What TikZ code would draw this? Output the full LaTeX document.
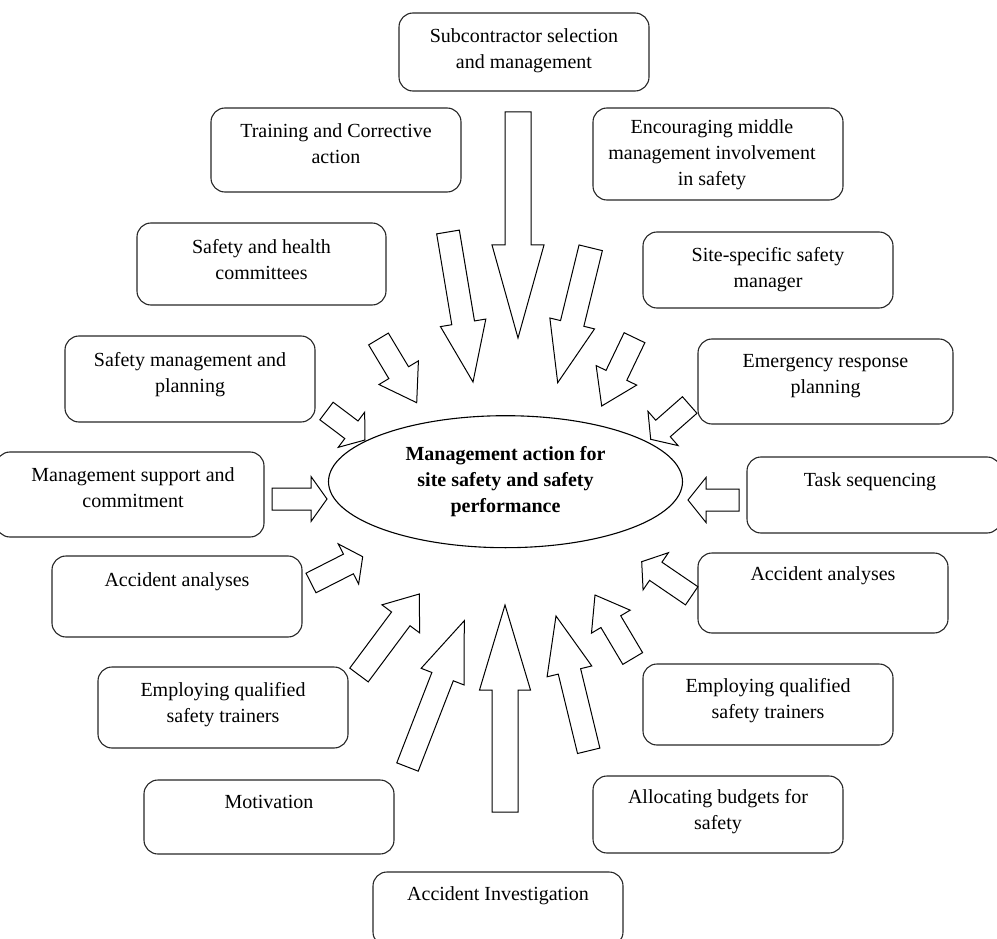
\documentclass[tikz,border=0pt]{standalone}
\usepackage{fontspec}
\setmainfont{Liberation Serif}
\usetikzlibrary{calc,shapes.geometric}

\tikzset{
  card/.style={draw=black!85, line width=1.1pt, rounded corners=14pt, inner sep=0pt},
  lbl/.style={anchor=north, inner sep=0pt, align=center, font=\fontsize{20}{26}\selectfont},
  hub/.style={draw=black, line width=1.1pt, ellipse, inner sep=0pt, align=center,
              font=\fontsize{20}{26}\selectfont\bfseries},
  flowarrow/.style={draw=black, line width=1pt, line join=miter},
}

% Block arrow from tail #1 to tip #2: half shaft width #3, half head width #4, head length #5
\newcommand\bigarrow[5]{%
  \coordinate (#2-base) at ($(#2)!#5!(#1)$);
  \draw[flowarrow] ($(#1)!#3!90:(#2)$) -- ($(#2-base)!#3!90:(#2)$)
    -- ($(#2-base)!#4!90:(#2)$) -- (#2) -- ($(#2-base)!#4!-90:(#2)$)
    -- ($(#2-base)!#3!-90:(#2)$) -- ($(#1)!#3!-90:(#2)$) -- cycle;
}

\begin{document}
\begin{tikzpicture}[x=1pt, y=-1pt]
\useasboundingbox (0,0) rectangle (997,939);

% central ellipse
\node[hub, minimum width=354pt, minimum height=132pt] (core) at (505.5,481.7)
  {Management action for\\site safety and safety\\performance};

% factor boxes
\node[card, minimum width=250pt, minimum height=78pt] (sub)   at (524,52)    {};
\node[card, minimum width=250pt, minimum height=84pt] (train) at (336,150)   {};
\node[card, minimum width=250pt, minimum height=92pt] (enc)   at (718,154)   {};
\node[card, minimum width=249pt, minimum height=82pt] (shc)   at (261.5,264) {};
\node[card, minimum width=250pt, minimum height=76pt] (site)  at (768,270)   {};
\node[card, minimum width=250pt, minimum height=86pt] (smp)   at (190,379)   {};
\node[card, minimum width=255pt, minimum height=85pt] (erp)   at (825.5,381.5) {};
\node[card, minimum width=268pt, minimum height=85pt] (msc)   at (130,494.5) {};
\node[card, minimum width=254pt, minimum height=76pt] (task)  at (874,495)   {};
\node[card, minimum width=250pt, minimum height=81pt] (accL)  at (177,596.5) {};
\node[card, minimum width=250pt, minimum height=80pt] (accR)  at (823,593)   {};
\node[card, minimum width=250pt, minimum height=81pt] (empL)  at (223,707.5) {};
\node[card, minimum width=250pt, minimum height=81pt] (empR)  at (768,704.5) {};
\node[card, minimum width=250pt, minimum height=74pt] (mot)   at (269,817)   {};
\node[card, minimum width=250pt, minimum height=77pt] (alloc) at (718,814.5) {};
\node[card, minimum width=250pt, minimum height=74pt] (inv)   at (498,909)   {};

% box captions
\node[lbl] (sub-t)   at ([yshift=-16pt]sub.north)   {Subcontractor selection\\and management};
\node[lbl] (train-t) at ([yshift=-16pt]train.north) {Training and Corrective\\action};
\node[lbl] (enc-t)   at ([yshift=-12pt,xshift=-6pt]enc.north) {Encouraging middle\\management involvement\\in safety};
\node[lbl] (shc-t)   at ([yshift=-17pt]shc.north)   {Safety and health\\committees};
\node[lbl] (site-t)  at ([yshift=-16pt]site.north)  {Site-specific safety\\manager};
\node[lbl] (smp-t)   at ([yshift=-17pt]smp.north)   {Safety management and\\planning};
\node[lbl] (erp-t)   at ([yshift=-16pt]erp.north)   {Emergency response\\planning};
\node[lbl] (msc-t)   at ([yshift=-16pt,xshift=3pt]msc.north) {Management support and\\commitment};
\node[lbl] (task-t)  at ([yshift=-16pt,xshift=-4pt]task.north) {Task sequencing};
\node[lbl] (accL-t)  at ([yshift=-17pt]accL.north)  {Accident analyses};
\node[lbl] (accR-t)  at ([yshift=-14pt]accR.north)  {Accident analyses};
\node[lbl] (empL-t)  at ([yshift=-16pt]empL.north)  {Employing qualified\\safety trainers};
\node[lbl] (empR-t)  at ([yshift=-15pt]empR.north)  {Employing qualified\\safety trainers};
\node[lbl] (mot-t)   at ([yshift=-16pt]mot.north)   {Motivation};
\node[lbl] (alloc-t) at ([yshift=-14pt]alloc.north) {Allocating budgets for\\safety};
\node[lbl] (inv-t)   at ([yshift=-15pt]inv.north)   {Accident Investigation};

% arrow tails and tips
\coordinate (a1) at (518,112);     \coordinate (p1) at (518,338);
\coordinate (a2) at (448,232);     \coordinate (p2) at (473,382);
\coordinate (a3) at (378.5,339);   \coordinate (p3) at (416.7,402.7);
\coordinate (a4) at (326.5,411);   \coordinate (p4) at (365,440);
\coordinate (a5) at (272,499);     \coordinate (p5) at (327,499);
\coordinate (a6) at (311,583);     \coordinate (p6) at (362.7,556.7);
\coordinate (a7) at (359,675);     \coordinate (p7) at (419.3,594);
\coordinate (a8) at (407.5,767);   \coordinate (p8) at (464.3,620.7);
\coordinate (a9) at (505,812);     \coordinate (p9) at (505,605);
\coordinate (a10) at (588.7,750.8); \coordinate (p10) at (556,616);
\coordinate (a11) at (632.7,658.5); \coordinate (p11) at (595,595);
\coordinate (a12) at (691.7,595.8); \coordinate (p12) at (641.7,561.7);
\coordinate (a13) at (739,500);     \coordinate (p13) at (688,500);
\coordinate (a14) at (689.7,405);   \coordinate (p14) at (650.7,439.3);
\coordinate (a15) at (634.5,337.7); \coordinate (p15) at (601.7,406);
\coordinate (a16) at (590.7,247.8); \coordinate (p16) at (557.7,382.7);

% block arrows pointing at the ellipse
\bigarrow{a1}{p1}{13pt}{26pt}{93pt}
\bigarrow{a2}{p2}{11.5pt}{23pt}{60pt}
\bigarrow{a3}{p3}{11.5pt}{23pt}{35pt}
\bigarrow{a4}{p4}{11pt}{22pt}{17pt}
\bigarrow{a5}{p5}{11pt}{22.5pt}{16pt}
\bigarrow{a6}{p6}{11pt}{22.5pt}{16pt}
\bigarrow{a7}{p7}{11.5pt}{23.5pt}{31pt}
\bigarrow{a8}{p8}{11.5pt}{23pt}{60pt}
\bigarrow{a9}{p9}{13pt}{25.5pt}{85pt}
\bigarrow{a10}{p10}{11.5pt}{23pt}{57pt}
\bigarrow{a11}{p11}{11.5pt}{22.5pt}{31pt}
\bigarrow{a12}{p12}{11pt}{22.5pt}{17pt}
\bigarrow{a13}{p13}{11pt}{22.5pt}{18pt}
\bigarrow{a14}{p14}{11pt}{22.8pt}{16.4pt}
\bigarrow{a15}{p15}{11.5pt}{22.5pt}{34pt}
\bigarrow{a16}{p16}{12pt}{23pt}{61pt}

\end{tikzpicture}
\end{document}
